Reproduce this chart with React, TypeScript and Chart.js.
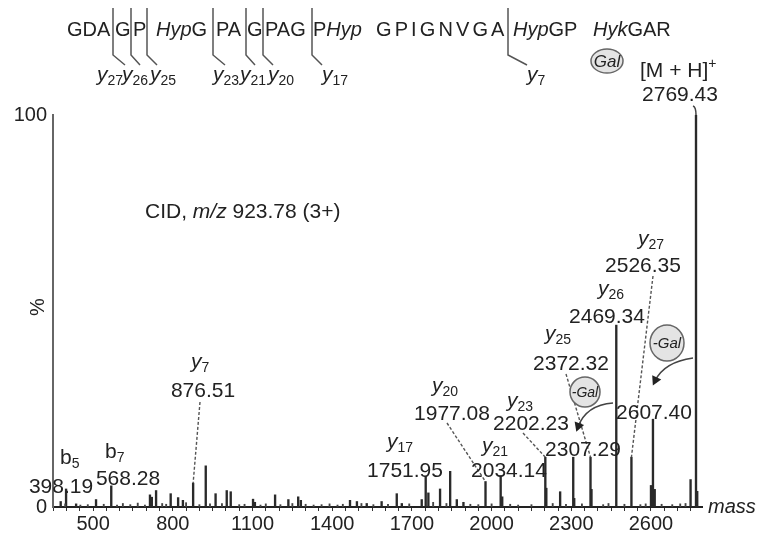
import React, { useEffect, useRef } from 'react';
import { Chart, registerables } from 'chart.js';
Chart.register(...registerables);

// ---------- data ----------
const peakMasses = [
  378, 398.19, 436, 511, 568.28, 714, 721, 737, 792, 820, 838, 876.51, 924, 961, 1003, 1018,
  1102, 1109, 1185, 1235, 1272, 1282, 1467, 1493, 1530, 1586, 1643, 1662, 1737, 1751.95, 1762,
  1806, 1844, 1869, 1894, 1977.08, 2034.14, 2040, 2202.23, 2206, 2258, 2307.29, 2311, 2372.32,
  2376, 2469.34, 2526.35, 2600, 2607.4, 2614, 2749, 2769.43, 2774,
];
const peakIntensities = [
  1.4, 4.6, 0.8, 1.9, 5.4, 3.1, 2.5, 4.2, 3.4, 2.4, 1.7, 6.1, 10.5, 3.4, 4.2, 3.9,
  2.0, 1.2, 3.1, 1.9, 2.6, 1.7, 1.7, 1.4, 0.9, 1.4, 3.4, 0.9, 1.9, 7.8, 3.6,
  4.6, 9.1, 1.9, 1.2, 6.5, 8.0, 2.6, 12.7, 4.8, 3.9, 12.7, 2.2, 12.7,
  4.5, 46.4, 12.7, 5.5, 22.4, 4.5, 7.0, 100, 4.0,
];
const grassMasses = [
  395, 452, 480, 540, 590, 612, 640, 668, 695, 760, 775, 850, 900, 940, 985, 1050, 1070, 1130,
  1150, 1205, 1250, 1300, 1330, 1360, 1390, 1420, 1440, 1510, 1555, 1610, 1690, 1780, 1830,
  1920, 1950, 2000, 2070, 2100, 2150, 2230, 2280, 2340, 2420, 2440, 2500, 2560, 2580, 2640,
  2680, 2710, 2730,
];
const grassIntensities = [
  0.8, 0.5, 0.6, 0.7, 0.5, 0.9, 0.6, 1.0, 0.5, 0.9, 0.7, 1.1, 0.6, 0.8, 0.9, 0.6, 0.7, 0.5,
  0.8, 0.6, 0.9, 0.7, 0.5, 0.6, 0.8, 0.5, 0.7, 0.9, 0.6, 0.7, 0.8, 1.2, 0.9,
  0.7, 0.6, 0.8, 0.7, 0.5, 0.6, 0.9, 0.7, 0.8, 0.6, 0.9, 0.7, 0.6, 0.8, 0.7,
  0.6, 0.8, 0.9,
];
const xTickValues = [500, 800, 1100, 1400, 1700, 2000, 2300, 2600];
const yTickValues = [0, 100];
const xMin = 349;
const xMax = 2792;

const ionMasses = [398.19, 568.28, 876.51, 1751.95, 1977.08, 2034.14, 2202.23, 2307.29, 2372.32, 2469.34, 2526.35, 2607.4, 2769.43];
const ionNames = ['b5', 'b7', 'y7', 'y17', 'y20', 'y21', 'y23', '', 'y25', 'y26', 'y27', '', '[M + H]+'];
const seqIons = ['y27', 'y26', 'y25', 'y23', 'y21', 'y20', 'y17', 'y7'];

const FONT = '"Liberation Sans", Arial, Helvetica, sans-serif';
const INK = '#222';

type Part = { t: string; i?: boolean; s?: number; dy?: number };

function setFont(ctx: CanvasRenderingContext2D, p: Part, base: number) {
  ctx.font = `${p.i ? 'italic ' : ''}${p.s || base}px ${FONT}`;
}
function rich(ctx: CanvasRenderingContext2D, parts: Part[], x: number, y: number, align: string, base = 21) {
  let w = 0;
  for (const p of parts) { setFont(ctx, p, base); w += ctx.measureText(p.t).width; }
  let cx = align === 'center' ? x - w / 2 : align === 'right' ? x - w : x;
  ctx.textAlign = 'left';
  ctx.textBaseline = 'alphabetic';
  for (const p of parts) {
    setFont(ctx, p, base);
    ctx.fillText(p.t, cx, y + (p.dy || 0));
    cx += ctx.measureText(p.t).width;
  }
}
function ionParts(name: string, italic: boolean): Part[] {
  return [{ t: name[0], i: italic, s: 21 }, { t: name.slice(1), s: 14, dy: 4 }];
}
function dashed(ctx: CanvasRenderingContext2D, x1: number, y1: number, x2: number, y2: number) {
  ctx.save();
  ctx.setLineDash([3, 2]);
  ctx.strokeStyle = '#555';
  ctx.lineWidth = 1.4;
  ctx.beginPath();
  ctx.moveTo(x1, y1);
  ctx.lineTo(x2, y2);
  ctx.stroke();
  ctx.restore();
}
function bubble(ctx: CanvasRenderingContext2D, cx: number, cy: number, rx: number, ry: number, text: string, size: number) {
  ctx.save();
  ctx.beginPath();
  ctx.ellipse(cx, cy, rx, ry, 0, 0, Math.PI * 2);
  ctx.fillStyle = '#e4e4e4';
  ctx.fill();
  ctx.strokeStyle = '#666';
  ctx.lineWidth = 1.5;
  ctx.stroke();
  ctx.fillStyle = INK;
  ctx.font = `italic ${size}px ${FONT}`;
  ctx.textAlign = 'center';
  ctx.textBaseline = 'middle';
  ctx.fillText(text, cx, cy + 1);
  ctx.restore();
}
function curvedArrow(ctx: CanvasRenderingContext2D, sx: number, sy: number, qx: number, qy: number, ex: number, ey: number) {
  ctx.save();
  ctx.strokeStyle = '#444';
  ctx.fillStyle = '#222';
  ctx.lineWidth = 1.6;
  ctx.beginPath();
  ctx.moveTo(sx, sy);
  ctx.quadraticCurveTo(qx, qy, ex, ey);
  ctx.stroke();
  const a = Math.atan2(ey - qy, ex - qx);
  const L = 9, W = 5;
  const tx = ex + Math.cos(a) * 5, ty = ey + Math.sin(a) * 5;
  ctx.beginPath();
  ctx.moveTo(tx, ty);
  ctx.lineTo(tx - Math.cos(a) * L + Math.sin(a) * W, ty - Math.sin(a) * L - Math.cos(a) * W);
  ctx.lineTo(tx - Math.cos(a) * L - Math.sin(a) * W, ty - Math.sin(a) * L + Math.cos(a) * W);
  ctx.closePath();
  ctx.fill();
  ctx.restore();
}

const annotations = {
  id: 'annotations',
  afterDraw(chart: any) {
    const ctx: CanvasRenderingContext2D = chart.ctx;
    const xs = chart.scales.x;
    const ys = chart.scales.y;
    const peakX = (m: number) => xs.getPixelForValue(m);
    const peakY = (m: number) => ys.getPixelForValue(peakIntensities[peakMasses.indexOf(m)]);
    ctx.save();
    ctx.fillStyle = INK;

    // ---- sequence ----
    const seqY = 36;
    rich(ctx, [{ t: 'GDA' }], 67, seqY, 'left', 20);
    rich(ctx, [{ t: 'G' }], 115, seqY, 'left', 20);
    rich(ctx, [{ t: 'P' }], 133, seqY, 'left', 20);
    rich(ctx, [{ t: 'Hyp', i: true }, { t: 'G' }], 156, seqY, 'left', 20);
    rich(ctx, [{ t: 'PA' }], 216, seqY, 'left', 20);
    rich(ctx, [{ t: 'G' }], 247, seqY, 'left', 20);
    rich(ctx, [{ t: 'PAG' }], 265, seqY, 'left', 20);
    rich(ctx, [{ t: 'P' }, { t: 'Hyp', i: true }], 313, seqY, 'left', 20);
    {
      let cx = 376;
      ctx.font = `20px ${FONT}`;
      for (const ch of 'GPIGNVGA') {
        ctx.fillText(ch, cx, seqY);
        cx += ctx.measureText(ch).width + 3.1;
      }
    }
    rich(ctx, [{ t: 'Hyp', i: true }, { t: 'GP' }], 513, seqY, 'left', 20);
    rich(ctx, [{ t: 'Hyk', i: true }, { t: 'GAR' }], 593, seqY, 'left', 20);

    // cleavage markers
    const cuts = [113, 131, 147, 213, 246, 263, 312, 508];
    const cutEnds = [125, 140, 157, 225, 255, 273, 322, 527];
    const ionLeft = [97, 122, 150, 213, 240, 268, 322, 527];
    ctx.strokeStyle = '#555';
    ctx.lineWidth = 1.5;
    cuts.forEach((cx, k) => {
      ctx.beginPath();
      ctx.moveTo(cx, 8);
      ctx.lineTo(cx, 55);
      ctx.lineTo(cutEnds[k], 65);
      ctx.stroke();
      rich(ctx, ionParts(seqIons[k], true), ionLeft[k], 81, 'left');
    });
    bubble(ctx, 607, 61, 16, 12, 'Gal', 17);

    // ---- title ----
    rich(ctx, [{ t: 'CID, ' }, { t: 'm/z', i: true }, { t: ' 923.78 (3+)' }], 145, 218, 'left', 21);

    // ---- ion labels ----
    const nameLeft = [60, 105, 191, 387, 432, 482, 507, 0, 545, 598, 638, 0, 640];
    const nameBase = [464, 458, 368, 448, 392, 452, 407, 0, 340, 295, 245, 0, 77];
    const valCx = [61, 128, 203, 405, 452, 509, 531, 583, 571, 607, 643, 654, 680];
    const valBase = [493, 485, 397, 477, 420, 477, 430, 456, 370, 323, 272, 419, 101];
    const leaderFrom: (number[] | null)[] = [null, null, [200, 402], null, [447, 423], null, [523, 433], null, [566, 374], null, [653, 276], null, null];

    ionMasses.forEach((m, k) => {
      const lf = leaderFrom[k];
      if (lf) dashed(ctx, lf[0], lf[1], peakX(m), peakY(m));
    });
    ionMasses.forEach((m, k) => {
      const nm = ionNames[k];
      ctx.fillStyle = INK;
      if (nm === '[M + H]+') {
        rich(ctx, [{ t: '[M + H]' }, { t: '+', s: 14, dy: -9 }], nameLeft[k], nameBase[k], 'left');
      } else if (nm) {
        rich(ctx, ionParts(nm, nm[0] === 'y'), nameLeft[k], nameBase[k], 'left');
      }
      rich(ctx, [{ t: m.toFixed(2) }], valCx[k], valBase[k], 'center');
    });

    // hook on precursor peak
    {
      const x = peakX(2769.43);
      const y = peakY(2769.43);
      ctx.strokeStyle = '#444';
      ctx.lineWidth = 1.5;
      ctx.beginPath();
      ctx.moveTo(x - 3, y - 9);
      ctx.quadraticCurveTo(x, y - 8, x, y);
      ctx.stroke();
    }

    // -Gal arrows and bubbles
    curvedArrow(ctx, 613, 403, 586, 405, 578, 427);
    curvedArrow(ctx, 693, 358, 664, 362, 655, 381);
    bubble(ctx, 585, 392, 15, 15, '-Gal', 14);
    bubble(ctx, 667, 343, 17, 18, '-Gal', 15);

    // axis decorations
    ctx.fillStyle = INK;
    ctx.font = `italic 20px ${FONT}`;
    ctx.textAlign = 'left';
    ctx.textBaseline = 'alphabetic';
    ctx.fillText('mass', 708, 513);
    ctx.save();
    ctx.translate(44, 307);
    ctx.rotate(-Math.PI / 2);
    ctx.font = `20px ${FONT}`;
    ctx.textAlign = 'center';
    ctx.fillText('%', 0, 0);
    ctx.restore();

    ctx.restore();
  },
};

export default function App() {
  const ref = useRef<HTMLCanvasElement>(null);
  useEffect(() => {
    if (!ref.current) return;
    const minorTicks: number[] = [];
    for (let v = 350; v <= 2790; v += 50) minorTicks.push(v);
    const chart = new Chart(ref.current, {
      type: 'bar',
      data: {
        datasets: [
          {
            data: grassMasses.map((m, k) => ({ x: m, y: grassIntensities[k] })),
            backgroundColor: '#444',
            barThickness: 1.2,
            grouped: false,
          } as any,
          {
            data: peakMasses.map((m, k) => ({ x: m, y: peakIntensities[k] })),
            backgroundColor: '#2a2a2a',
            barThickness: 1.7,
            grouped: false,
          } as any,
        ],
      },
      options: {
        animation: false,
        responsive: false,
        maintainAspectRatio: false,
        layout: { padding: { left: 0, top: 115, right: 58, bottom: 0 } },
        plugins: { legend: { display: false }, tooltip: { enabled: false } },
        scales: {
          x: {
            type: 'linear',
            min: xMin,
            max: xMax,
            offset: false,
            afterFit: (s: any) => { s.height = 33; },
            afterBuildTicks: (s: any) => { s.ticks = minorTicks.map((v) => ({ value: v })); },
            grid: { display: true, drawOnChartArea: false, drawTicks: true, tickLength: 4, color: '#333', lineWidth: 1, offset: false },
            border: { display: true, color: '#222', width: 2 },
            ticks: {
              autoSkip: false,
              maxRotation: 0,
              padding: 1,
              color: INK,
              font: { family: FONT, size: 20 },
              callback: (v: any) => (xTickValues.includes(Number(v)) ? String(v) : ''),
            },
          },
          y: {
            min: 0,
            max: 100,
            afterFit: (s: any) => { s.width = 53; },
            afterBuildTicks: (s: any) => { s.ticks = yTickValues.map((v) => ({ value: v })); },
            grid: { display: false, drawTicks: false },
            border: { display: true, color: '#666', width: 2 },
            ticks: { padding: 6, color: INK, font: { family: FONT, size: 20 } },
          },
        },
      },
      plugins: [annotations],
    } as any);
    return () => chart.destroy();
  }, []);
  return (
    <div style={{ position: 'fixed', left: 0, top: 0, width: 760, height: 540, background: '#fff' }}>
      <canvas ref={ref} width={760} height={540} style={{ width: 760, height: 540 }} />
    </div>
  );
}
